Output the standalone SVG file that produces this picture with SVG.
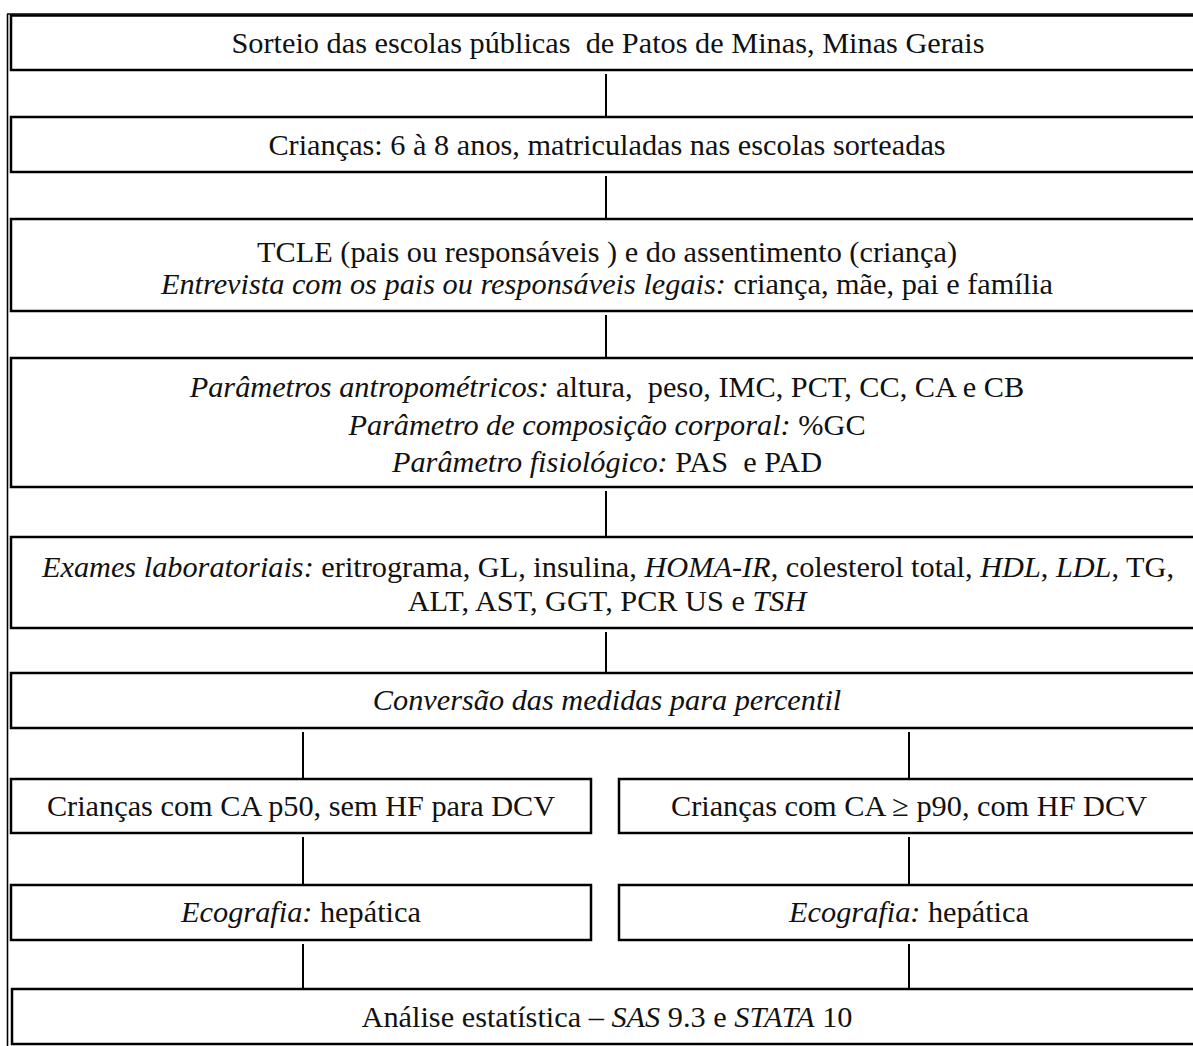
<svg xmlns="http://www.w3.org/2000/svg" width="1193" height="1046" viewBox="0 0 1193 1046">
<style>
.bg { fill: #ffffff; }
.box { fill: #ffffff; stroke: #000000; stroke-width: 2.5; }
.frame { stroke: #000000; stroke-width: 1.6; fill: none; }
.t { font-family: "Liberation Serif", "Times New Roman", serif; font-size: 30.3px; fill: #111111; text-anchor: middle; white-space: pre; }
.i { font-style: italic; }
#connectors line { stroke: #000000; stroke-width: 2; }
</style>
<rect class="bg" x="0" y="0" width="1193" height="1046"/>
<g id="frame">
  <line class="frame" x1="7.5" y1="14" x2="7.5" y2="1046"/>
  <line class="frame" x1="7" y1="14" x2="1193" y2="14"/>
</g>
<g id="connectors">
  <line x1="606" y1="74" x2="606" y2="117"/>
  <line x1="606" y1="176" x2="606" y2="219"/>
  <line x1="606" y1="315" x2="606" y2="358"/>
  <line x1="606" y1="491" x2="606" y2="537"/>
  <line x1="606" y1="632" x2="606" y2="673"/>
  <line x1="303" y1="732" x2="303" y2="779"/>
  <line x1="909" y1="732" x2="909" y2="779"/>
  <line x1="303" y1="837" x2="303" y2="885"/>
  <line x1="909" y1="837" x2="909" y2="885"/>
  <line x1="303" y1="944" x2="303" y2="989"/>
  <line x1="909" y1="944" x2="909" y2="989"/>
</g>
<g id="n1">
  <rect class="box" x="11" y="15.5" width="1193" height="54.5"/>
  <text class="t" x="608" y="53">Sorteio das escolas públicas  de Patos de Minas, Minas Gerais</text>
</g>
<g id="n2">
  <rect class="box" x="11" y="117" width="1193" height="55"/>
  <text class="t" x="607" y="155">Crianças: 6 à 8 anos, matriculadas nas escolas sorteadas</text>
</g>
<g id="n3">
  <rect class="box" x="11" y="219" width="1193" height="92"/>
  <text class="t" x="607" y="262">TCLE (pais ou responsáveis ) e do assentimento (criança)</text>
  <text class="t" x="607" y="294"><tspan class="i">Entrevista com os pais ou responsáveis legais:</tspan> criança, mãe, pai e família</text>
</g>
<g id="n4">
  <rect class="box" x="11" y="358" width="1193" height="129"/>
  <text class="t" x="607" y="397"><tspan class="i">Parâmetros antropométricos:</tspan> altura,  peso, IMC, PCT, CC, CA e CB</text>
  <text class="t" x="607" y="435"><tspan class="i">Parâmetro de composição corporal:</tspan> %GC</text>
  <text class="t" x="607" y="472"><tspan class="i">Parâmetro fisiológico:</tspan> PAS  e PAD</text>
</g>
<g id="n5">
  <rect class="box" x="11" y="537" width="1193" height="91"/>
  <text class="t" x="608" y="577"><tspan class="i">Exames laboratoriais:</tspan> eritrograma, GL, insulina, <tspan class="i">HOMA-IR</tspan>, colesterol total, <tspan class="i">HDL</tspan>, <tspan class="i">LDL</tspan>, TG,</text>
  <text class="t" x="607" y="611">ALT, AST, GGT, PCR US e <tspan class="i">TSH</tspan></text>
</g>
<g id="n6">
  <rect class="box" x="11" y="673" width="1193" height="55"/>
  <text class="t i" x="607" y="710">Conversão das medidas para percentil</text>
</g>
<g id="n7a">
  <rect class="box" x="11" y="779" width="580" height="54"/>
  <text class="t" x="301" y="816">Crianças com CA p50, sem HF para DCV</text>
</g>
<g id="n7b">
  <rect class="box" x="619" y="779" width="590" height="54"/>
  <text class="t" x="909" y="816">Crianças com CA ≥ p90, com HF DCV</text>
</g>
<g id="n8a">
  <rect class="box" x="11" y="885" width="580" height="55"/>
  <text class="t" x="301" y="922"><tspan class="i">Ecografia:</tspan> hepática</text>
</g>
<g id="n8b">
  <rect class="box" x="619" y="885" width="590" height="55"/>
  <text class="t" x="909" y="922"><tspan class="i">Ecografia:</tspan> hepática</text>
</g>
<g id="n9">
  <rect class="box" x="12" y="989" width="1193" height="55"/>
  <text class="t" x="607" y="1027">Análise estatística – <tspan class="i">SAS</tspan> 9.3 e <tspan class="i">STATA</tspan> 10</text>
</g>
</svg>
